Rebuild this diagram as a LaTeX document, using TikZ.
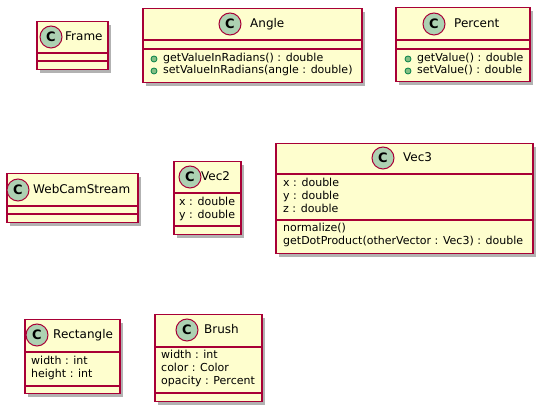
\documentclass[tikz,border=0pt]{standalone}
\usepackage{fontspec}
\setmainfont{DejaVu Sans}
\usetikzlibrary{shadows}
\definecolor{umlfill}{HTML}{FEFECE}
\definecolor{umlborder}{HTML}{A80036}
\definecolor{umlcircle}{HTML}{ADD1B2}
\definecolor{pubfill}{HTML}{84BE84}
\definecolor{pubborder}{HTML}{038048}

\begin{document}
\begin{tikzpicture}[
            x=1pt, y=-1pt,
            classbox/.style={draw=umlborder, fill=umlfill, line width=1.5pt,
                             inner sep=0pt, anchor=north west,
                             drop shadow={shadow xshift=3pt, shadow yshift=-3pt,
                                          opacity=0.3, fill=black}},
            divider/.style={draw=umlborder, line width=1.5pt},
            ccircle/.style={circle, draw=umlborder, fill=umlcircle, line width=1pt,
                            minimum size=22pt, inner sep=0pt,
                            font=\bfseries\fontsize{13}{13}\selectfont},
            cname/.style={anchor=west, inner sep=0pt, text height=9pt, text depth=2.5pt,
                          font=\fontsize{12}{14}\selectfont},
            member/.style={anchor=west, inner sep=0pt, text height=8pt, text depth=2.5pt,
                           font=\fontsize{11}{13}\selectfont},
            pubdot/.style={circle, draw=pubborder, fill=pubfill, line width=0.8pt,
                           minimum size=6pt, inner sep=0pt},
        ]
            \useasboundingbox (0,0) rectangle (542,411);

            % Frame
            \node[classbox, minimum width=71pt, minimum height=48pt] (frame) at (36,21) {};
            \draw[divider] (frame.west |- 0,53) -- (frame.east |- 0,53);
            \draw[divider] (frame.west |- 0,61) -- (frame.east |- 0,61);
            \node[ccircle] (frameC) at (51,37) {C};
            \node[cname] (frameN) at (65,37) {Frame};

            % Angle
            \node[classbox, minimum width=219pt, minimum height=74pt] (angle) at (142,8) {};
            \draw[divider] (angle.west |- 0,40) -- (angle.east |- 0,40);
            \draw[divider] (angle.west |- 0,49) -- (angle.east |- 0,49);
            \node[ccircle] (angleC) at (230,24) {C};
            \node[cname] (angleN) at (250,24) {Angle};
            \node[pubdot] (angleD1) at (154,59) {};
            \node[pubdot] (angleD2) at (154,71) {};
            \node[member] (angleM1) at (163,59) {getValueInRadians() : double};
            \node[member] (angleM2) at (163,71) {setValueInRadians(angle : double)};

            % Percent
            \node[classbox, minimum width=134pt, minimum height=74pt] (percent) at (395,7) {};
            \draw[divider] (percent.west |- 0,40) -- (percent.east |- 0,40);
            \draw[divider] (percent.west |- 0,49) -- (percent.east |- 0,49);
            \node[ccircle] (percentC) at (434,24) {C};
            \node[cname] (percentN) at (454,24) {Percent};
            \node[pubdot] (percentD1) at (408,59) {};
            \node[pubdot] (percentD2) at (408,71) {};
            \node[member] (percentM1) at (417,59) {getValue() : double};
            \node[member] (percentM2) at (417,71) {setValue() : double};

            % WebCamStream
            \node[classbox, minimum width=131pt, minimum height=49pt] (webcam) at (6,173) {};
            \draw[divider] (webcam.west |- 0,206) -- (webcam.east |- 0,206);
            \draw[divider] (webcam.west |- 0,214) -- (webcam.east |- 0,214);
            \node[ccircle] (webcamC) at (18,190) {C};
            \node[cname] (webcamN) at (33,190) {WebCamStream};

            % Vec2
            \node[classbox, minimum width=67pt, minimum height=73pt] (vec2) at (173,161) {};
            \draw[divider] (vec2.west |- 0,193) -- (vec2.east |- 0,193);
            \draw[divider] (vec2.west |- 0,226) -- (vec2.east |- 0,226);
            \node[ccircle] (vec2C) at (190,177) {C};
            \node[cname] (vec2N) at (201,177) {Vec2};
            \node[member] (vec2A1) at (179,203) {x : double};
            \node[member] (vec2A2) at (179,216) {y : double};

            % Vec3
            \node[classbox, minimum width=257pt, minimum height=110pt] (vec3) at (275,143) {};
            \draw[divider] (vec3.west |- 0,174) -- (vec3.east |- 0,174);
            \draw[divider] (vec3.west |- 0,220) -- (vec3.east |- 0,220);
            \node[ccircle] (vec3C) at (383,158) {C};
            \node[cname] (vec3N) at (403,158) {Vec3};
            \node[member] (vec3A1) at (283,184) {x : double};
            \node[member] (vec3A2) at (283,197) {y : double};
            \node[member] (vec3A3) at (283,210) {z : double};
            \node[member] (vec3M1) at (283,229) {normalize()};
            \node[member] (vec3M2) at (283,242) {getDotProduct(otherVector : Vec3) : double};

            % Rectangle
            \node[classbox, minimum width=95pt, minimum height=74pt] (rect) at (24,319) {};
            \draw[divider] (rect.west |- 0,352) -- (rect.east |- 0,352);
            \draw[divider] (rect.west |- 0,386) -- (rect.east |- 0,386);
            \node[ccircle] (rectC) at (37,335) {C};
            \node[cname] (rectN) at (53,335) {Rectangle};
            \node[member] (rectA1) at (31,362) {width : int};
            \node[member] (rectA2) at (31,375) {height : int};

            % Brush
            \node[classbox, minimum width=107pt, minimum height=87pt] (brush) at (154,314) {};
            \draw[divider] (brush.west |- 0,347) -- (brush.east |- 0,347);
            \draw[divider] (brush.west |- 0,393) -- (brush.east |- 0,393);
            \node[ccircle] (brushC) at (187,330) {C};
            \node[cname] (brushN) at (204,330) {Brush};
            \node[member] (brushA1) at (161,356) {width : int};
            \node[member] (brushA2) at (161,369) {color : Color};
            \node[member] (brushA3) at (161,382) {opacity : Percent};
        \end{tikzpicture}
\end{document}
